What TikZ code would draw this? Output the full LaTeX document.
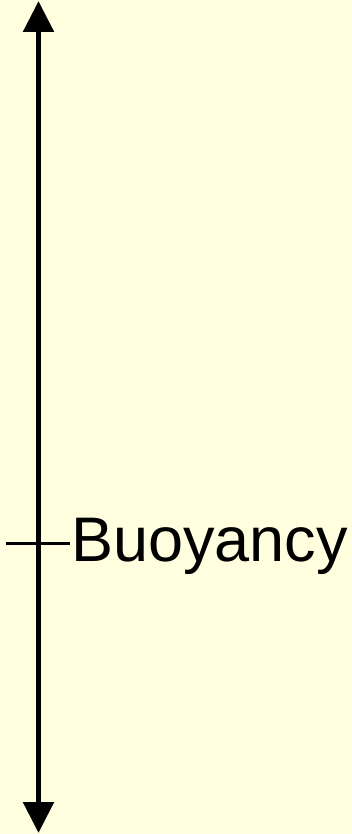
\documentclass[tikz,border=0pt]{standalone}
\usepackage{fontspec}
\setmainfont{Liberation Sans}
\usetikzlibrary{arrows.meta}
\definecolor{bg}{RGB}{255,255,224}
\tikzset{
  axisline/.style={line width=5.5pt, {Triangle[length=31pt,width=30pt]}-{Triangle[length=31pt,width=30pt]}},
  tickline/.style={line width=3pt},
  lbl/.style={font=\fontsize{63pt}{70pt}\selectfont, inner sep=0pt, anchor=base west}
}
\begin{document}
\begin{tikzpicture}[x=1pt,y=-1pt]
\fill[bg] (0,0) rectangle (352,834);
\useasboundingbox (0,0) rectangle (352,834);
\coordinate (top) at (38.5,1);
\coordinate (bot) at (38.5,833);
\draw[axisline] (bot) -- (top);
\coordinate (tickL) at (6,543);
\coordinate (tickR) at (70,543);
\draw[tickline] (tickL) -- (tickR);
\node[lbl] (buoy) at (71,561) {Buoyancy};
\end{tikzpicture}
\end{document}
